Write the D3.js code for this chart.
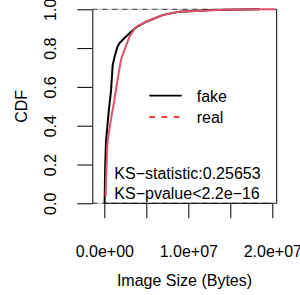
<!DOCTYPE html>
<html>
<head>
<meta charset="utf-8">
<script src="https://cdn.jsdelivr.net/npm/d3@7"></script>
<style>
  html, body { margin: 0; padding: 0; background: #fff; }
  svg { display: block; font-family: "Liberation Sans", Arial, Helvetica, sans-serif; }
</style>
</head>
<body>
<svg id="chart" width="300" height="295"></svg>
<script>
// ---- data ----
const fakeX = [3.6e4, 9.5e4, 2.0e5, 5.4e5, 8.0e5, 9.9e5, 1.25e6, 1.55e6, 1.79e6, 2.39e6, 2.98e6, 3.82e6, 5.01e6, 6.92e6, 8.95e6, 1.29e7, 1.85e7];
const fakeY = [0.0, 0.17, 0.32, 0.48, 0.58, 0.71, 0.76, 0.805, 0.824, 0.852, 0.875, 0.908, 0.936, 0.97, 0.988, 0.997, 1.0];
const realX = [1.55e5, 2.4e5, 3.9e5, 7.8e5, 1.19e6, 1.55e6, 1.99e6, 2.39e6, 2.98e6, 3.58e6, 3.97e6, 4.98e6, 6.92e6, 8.95e6, 1.49e7, 2.03e7];
const realY = [0.035, 0.17, 0.32, 0.43, 0.53, 0.63, 0.74, 0.79, 0.857, 0.898, 0.914, 0.936, 0.97, 0.988, 0.999, 1.0];
const xTicks = [0, 5e6, 1e7, 1.5e7, 2e7];
const xTickLabels = ["0.0e+00", "", "1.0e+07", "", "2.0e+07"];
const yTicks = [0, 0.2, 0.4, 0.6, 0.8, 1.0];
const yTickLabels = ["0.0", "0.2", "0.4", "0.6", "0.8", "1.0"];
const seriesNames = ["fake", "real"];
const ksLines = ["KS\u2212statistic:0.25653", "KS\u2212pvalue<2.2e\u221216"];
const xTitle = "Image Size (Bytes)";
const yTitle = "CDF";

// ---- layout ----
const L = 92.3, R = 276.7, T = 9.3, B = 203.3;
const svg = d3.select("#chart");
const x = d3.scaleLinear().domain([-1.43e6, 2.0524e7]).range([L, R]);
const y = d3.scaleLinear().domain([0, 1]).range([B, T]);
const FS = "16px";

// horizontal reference lines at 0 and 1 (light underlay + dashes)
[0, 1].forEach(v => {
  svg.append("line").attr("x1", L).attr("x2", R).attr("y1", y(v)).attr("y2", y(v))
    .attr("stroke", "#bbb").attr("stroke-width", 1);
  svg.append("line").attr("x1", L).attr("x2", R).attr("y1", y(v)).attr("y2", y(v))
    .attr("stroke", "#444").attr("stroke-width", 1).attr("stroke-dasharray", "5,5");
});
// right border
svg.append("line").attr("x1", R).attr("x2", R).attr("y1", T).attr("y2", B)
  .attr("stroke", "#000").attr("stroke-width", 1);

// curves
const line = d3.line().x(d => x(d[0])).y(d => y(d[1]));
const fakeData = fakeX.map((v, i) => [v, fakeY[i]]);
const realData = realX.map((v, i) => [v, realY[i]]);
svg.append("path").attr("d", line(fakeData)).attr("fill", "none")
  .attr("stroke", "#000").attr("stroke-width", 2);
svg.append("path").attr("d", line(realData)).attr("fill", "none")
  .attr("stroke", "#DF536B").attr("stroke-width", 2);

// x axis
const xAxis = d3.axisBottom(x).tickValues(xTicks).tickSize(15).tickSizeOuter(0)
  .tickFormat((d, i) => xTickLabels[i]);
const gx = svg.append("g").attr("transform", `translate(0,${B})`).call(xAxis);
gx.select(".domain").remove();
gx.append("line").attr("x1", x(xTicks[0])).attr("x2", x(xTicks[xTicks.length - 1]))
  .attr("y1", 0).attr("y2", 0).attr("stroke", "#000");
gx.selectAll(".tick line").attr("stroke", "#000");
gx.selectAll(".tick text").attr("y", 54).attr("dy", 0)
  .attr("font-size", FS).attr("font-family", "Liberation Sans, Arial, sans-serif").attr("fill", "#000");

// y axis
const yAxis = d3.axisLeft(y).tickValues(yTicks).tickSize(15).tickSizeOuter(0)
  .tickFormat((d, i) => yTickLabels[i]);
const gy = svg.append("g").attr("transform", `translate(${L},0)`).call(yAxis);
gy.select(".domain").attr("stroke", "#000");
gy.selectAll(".tick line").attr("stroke", "#000");
gy.selectAll(".tick text").attr("x", 0).attr("y", 0).attr("dy", 0)
  .attr("text-anchor", "middle")
  .attr("transform", "translate(-36.8,0) rotate(-90)")
  .attr("font-size", FS).attr("font-family", "Liberation Sans, Arial, sans-serif").attr("fill", "#000");

// titles
svg.append("text").attr("x", (L + R) / 2).attr("y", 285.5).attr("text-anchor", "middle")
  .attr("font-size", FS).text(xTitle);
svg.append("text").attr("transform", `translate(27.3,${(T + B) / 2}) rotate(-90)`)
  .attr("text-anchor", "middle").attr("font-size", FS).text(yTitle);

// legend
const legColors = ["#000", "red"];
const legDash = [null, "5.7,6.5"];
seriesNames.forEach((n, i) => {
  const ly = 95.7 + i * 21.3;
  const ln = svg.append("line").attr("x1", 149.3).attr("x2", 181.7).attr("y1", ly).attr("y2", ly)
    .attr("stroke", legColors[i]).attr("stroke-width", 1.7);
  if (legDash[i]) ln.attr("stroke-dasharray", legDash[i]);
  svg.append("text").attr("x", 196.7).attr("y", 101.7 + i * 21).attr("font-size", FS).text(n);
});

// KS annotations
ksLines.forEach((t, i) => {
  svg.append("text").attr("x", 114.3).attr("y", 179 + i * 20.3).attr("font-size", FS).text(t);
});
</script>
</body>
</html>
